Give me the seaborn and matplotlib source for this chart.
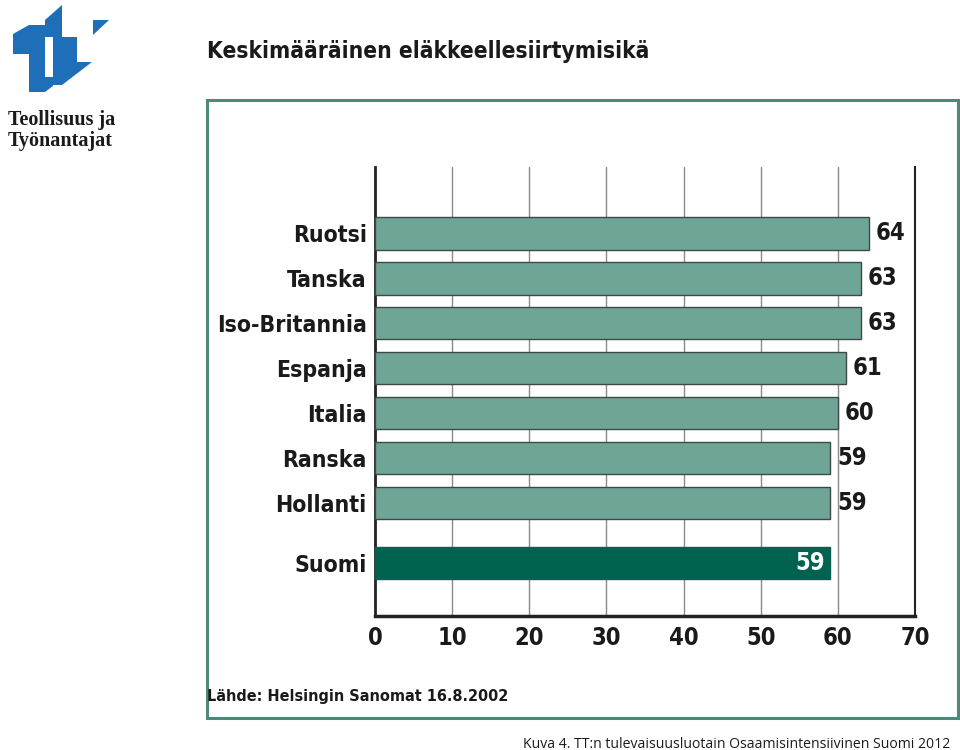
import matplotlib
matplotlib.use("Agg")
import matplotlib.pyplot as plt
import pandas as pd
import seaborn as sns
from matplotlib.patches import Polygon, Rectangle

# Data
countries = ["Ruotsi", "Tanska", "Iso-Britannia", "Espanja",
             "Italia", "Ranska", "Hollanti", "Suomi"]
ages = [64, 63, 63, 61, 60, 59, 59, 59]
x_ticks = [0, 10, 20, 30, 40, 50, 60, 70]

title = "Keskimääräinen eläkkeellesiirtymisikä"
source = "Lähde: Helsingin Sanomat 16.8.2002"
caption = "Kuva 4. TT:n tulevaisuusluotain Osaamisintensiivinen Suomi 2012"

light = "#6fa596"
dark = "#00634f"
frame_col = "#4b8a7b"
ink = "#1a1a1a"

sns.set_theme(style="white")
plt.rcParams["font.family"] = ["DejaVu Sans"]
plt.rcParams["font.stretch"] = "condensed"

# Suomi gets a bit of extra room below the others
pos = [i for i in range(len(countries) - 1)] + [len(countries) - 1 + 1 / 3]
df = pd.DataFrame({"country": countries, "age": ages, "pos": pos})
colors = [light] * (len(countries) - 1) + [dark]

fig = plt.figure(figsize=(9.6, 7.5), dpi=100)
ax = fig.add_axes([0.3906, 0.1787, 0.5625, 0.5987])

sns.barplot(
    data=df,
    x="age",
    y="pos",
    hue="country",
    palette=colors,
    orient="h",
    native_scale=True,
    width=0.73,
    legend=False,
    saturation=1,
    ax=ax,
)
for p, c in zip(ax.patches, colors):
    if c == light:
        p.set_edgecolor("#3c4a46")
        p.set_linewidth(1.0)
    else:
        p.set_edgecolor(dark)
    p.set_zorder(3)

fs = 16.5
ax.set_xlim(0, 70)
ax.set_ylim(8.51, -1.47)
ax.set_xticks(x_ticks)
ax.set_xticklabels([str(t) for t in x_ticks], fontsize=fs + 0.5, fontweight="bold", color=ink)
ax.set_yticks(pos)
ax.set_yticklabels(countries, fontsize=fs, fontweight="bold", color=ink)
ax.tick_params(axis="both", length=0)
ax.tick_params(axis="x", pad=7)
ax.tick_params(axis="y", pad=6)
ax.set_xlabel("")
ax.set_ylabel("")

for x in x_ticks[1:-1]:
    ax.axvline(x, color="#8a8a8a", lw=1.0, zorder=1)

ax.spines["top"].set_visible(False)
ax.spines["left"].set_color("#222222")
ax.spines["left"].set_linewidth(2)
ax.spines["bottom"].set_color("#222222")
ax.spines["bottom"].set_linewidth(2.5)
ax.spines["right"].set_color("#222222")
ax.spines["right"].set_linewidth(1.5)

# value labels
for i, (v, y) in enumerate(zip(ages, pos)):
    if i == len(ages) - 1:
        ax.text(v - 0.6, y, str(v), ha="right", va="center", fontsize=fs + 0.5,
                fontweight="bold", color="white", zorder=4)
    else:
        ax.text(v + 0.9, y, str(v), ha="left", va="center", fontsize=fs + 0.5,
                fontweight="bold", color=ink, zorder=4)

# frame around the chart
fig.patches.append(Rectangle((0.2156, 0.0427), 0.7824, 0.824, transform=fig.transFigure,
                             fill=False, edgecolor=frame_col, lw=2.2))

fig.text(0.2156, 0.931, title, fontsize=16.3, fontweight="bold", color=ink,
         ha="left", va="center")
fig.text(0.2156, 0.072, source, fontsize=11.6, fontweight="bold", color=ink,
         ha="left", va="center")
fig.text(0.99, 0.008, caption, fontsize=10.1, color=ink, ha="right", va="center",
         family=["Open Sans", "DejaVu Sans"], stretch="normal")

# logo
blue = "#1f6fb8"
H = 750.0
def fpoly(pts):
    return Polygon([(x / 960.0, 1 - y / H) for x, y in pts], closed=True,
                   transform=fig.transFigure, facecolor=blue, edgecolor="none")

logo = [
    [(13, 34), (29, 25), (45, 25), (45, 92), (29, 92), (29, 54), (13, 54)],
    [(45, 20), (62, 5), (62, 37), (77, 37), (77, 62), (92, 62), (62, 85),
     (53, 85), (53, 37), (45, 37)],
    [(45, 77), (53, 77), (53, 86), (45, 92)],
    [(93, 20), (109, 20), (93, 35)],
]
for pts in logo:
    fig.patches.append(fpoly(pts))
fig.text(0.008, 0.826, "Teollisuus ja\nTyönantajat", fontsize=14.5, fontweight="bold",
         color=ink, ha="left", va="center", linespacing=1.1,
         family=["Liberation Serif", "DejaVu Serif"], stretch="normal")

fig.savefig("out.png", dpi=100)
